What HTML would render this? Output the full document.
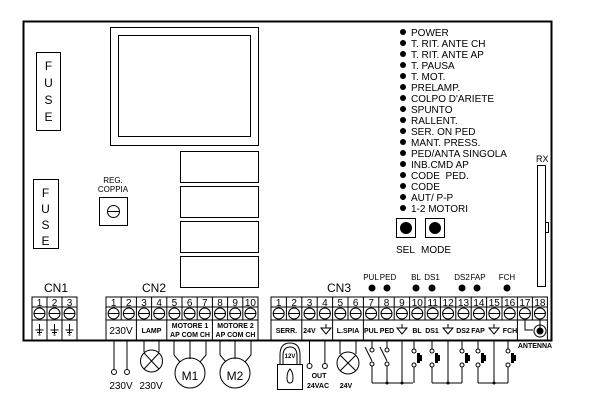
<!DOCTYPE html>
<html><head><style>
html,body{margin:0;padding:0;background:#fff;}
svg{display:block;font-family:"Liberation Sans",sans-serif;}
</style></head><body>
<svg width="600" height="415" viewBox="0 0 600 415" xmlns="http://www.w3.org/2000/svg">
<defs>
<g id="s" fill="none" stroke="#000" stroke-width="1"><circle cx="0" cy="0" r="5.5"/><path d="M-5.5 0H5.5"/></g>
<g id="gt" fill="none" stroke="#000" stroke-width="1"><path d="M-5 0H5L0 6Z M0 -4V0"/></g>
<g id="ge" fill="none" stroke="#000" stroke-width="1"><path d="M0 -6V4M-4 0H4M-2.5 2.5H2.5M-1 5H1"/></g>
</defs>
<rect x="0" y="0" width="600" height="415" fill="#fff"/>
<g fill="none" stroke="#000" stroke-width="1">
<path d="M23.5 21.5H551.5V340.5H23.5Z" stroke-width="2"/>
<rect x="110.5" y="27.5" width="148" height="118"/>
<rect x="118.5" y="35.5" width="132" height="101"/>
<rect x="180.5" y="151.5" width="78" height="31"/>
<rect x="180.5" y="186.5" width="78" height="31"/>
<rect x="180.5" y="221.5" width="78" height="31"/>
<rect x="180.5" y="256.5" width="78" height="31"/>
<rect x="36.5" y="52.5" width="24" height="78"/>
<rect x="33.5" y="179.5" width="25" height="69"/>
<rect x="99.5" y="197.5" width="28" height="28"/>
<circle cx="113.5" cy="211.5" r="6"/><path d="M107.5 211.5H119.5"/>
<rect x="396.5" y="218.5" width="19" height="19"/>
<rect x="425.5" y="218.5" width="19" height="19"/>
<rect x="537.5" y="165.5" width="8" height="121"/>
<rect x="545.5" y="222.5" width="3" height="10"/>
</g>
<circle cx="406" cy="228" r="6"/><circle cx="435" cy="228" r="6"/>
<g fill="#000">
<circle cx="403" cy="32" r="3"/><circle cx="403" cy="43" r="3"/><circle cx="403" cy="54" r="3"/><circle cx="403" cy="65" r="3"/><circle cx="403" cy="76" r="3"/><circle cx="403" cy="87" r="3"/><circle cx="403" cy="98" r="3"/><circle cx="403" cy="109" r="3"/><circle cx="403" cy="120" r="3"/><circle cx="403" cy="131" r="3"/><circle cx="403" cy="142" r="3"/><circle cx="403" cy="153" r="3"/><circle cx="403" cy="164" r="3"/><circle cx="403" cy="175" r="3"/><circle cx="403" cy="186" r="3"/><circle cx="403" cy="197" r="3"/><circle cx="403" cy="208" r="3"/>
</g>
<g font-size="10" fill="#000">
<text x="411" y="36">POWER</text>
<text x="411" y="47">T. RIT. ANTE CH</text>
<text x="411" y="58">T. RIT. ANTE AP</text>
<text x="411" y="69">T. PAUSA</text>
<text x="411" y="80">T. MOT.</text>
<text x="411" y="91">PRELAMP.</text>
<text x="411" y="102">COLPO D'ARIETE</text>
<text x="411" y="113">SPUNTO</text>
<text x="411" y="124">RALLENT.</text>
<text x="411" y="135">SER. ON PED</text>
<text x="411" y="146">MANT. PRESS.</text>
<text x="411" y="157">PED/ANTA SINGOLA</text>
<text x="411" y="168">INB.CMD AP</text>
<text x="411" y="179">CODE&#160; PED.</text>
<text x="411" y="190">CODE</text>
<text x="411" y="201">AUT/ P-P</text>
<text x="411" y="212">1-2 MOTORI</text>
<text x="396" y="253">SEL</text>
<text x="421" y="253">MODE</text>
<text x="536" y="162" font-size="9">RX</text>
</g>
<g font-size="12" fill="#000" text-anchor="middle">
<text x="48.5" y="70">F</text><text x="48.5" y="87">U</text><text x="48.5" y="104">S</text><text x="48.5" y="121">E</text>
<text x="45.5" y="197">F</text><text x="45.5" y="213">U</text><text x="45.5" y="229">S</text><text x="45.5" y="245">E</text>
</g>
<g font-size="8" text-anchor="middle" fill="#000">
<text x="113" y="183">REG.</text><text x="113" y="192">COPPIA</text>
</g>
<g font-size="12" fill="#000" text-anchor="middle">
<text x="56" y="292">CN1</text><text x="154" y="292">CN2</text><text x="339" y="292">CN3</text>
</g>
<g fill="#000"><circle cx="372" cy="288" r="3.5"/><circle cx="387" cy="288" r="3.5"/><circle cx="416" cy="288" r="3.5"/><circle cx="432" cy="288" r="3.5"/><circle cx="462" cy="288" r="3.5"/><circle cx="477" cy="288" r="3.5"/><circle cx="507" cy="288" r="3.5"/></g>
<g font-size="8" fill="#000" text-anchor="middle">
<text x="371" y="280">PUL</text><text x="388" y="280">PED</text><text x="416" y="280">BL</text><text x="432" y="280">DS1</text><text x="462" y="280">DS2</text><text x="478" y="280">FAP</text><text x="507" y="280">FCH</text>
</g>
<!-- terminal blocks -->
<g fill="none" stroke="#000" stroke-width="1">
<rect x="32" y="297" width="45" height="43"/>
<path d="M32 307H77M32 320H77M47 297V340M62 297V340"/>
<rect x="106" y="297" width="152" height="43"/>
<path d="M106 307H258M106 320H258M121.2 297V320M136.4 297V340M151.6 297V320M166.8 297V340M182 297V320M197.2 297V320M212.4 297V340M227.6 297V320M242.8 297V320"/>
<rect x="271" y="297" width="276.4" height="43"/>
<path d="M271 307H547.4M271 320H547.4M286.4 297V320M301.8 297V340M317.2 297V320M332.6 297V340M348 297V320M363.4 297V340M378.8 297V320M394.2 297V320M409.6 297V320M425 297V320M440.4 297V320M455.8 297V320M471.2 297V320M486.6 297V320M502 297V320M517.4 297V340M532.4 297V320"/>
</g>
<g>
<use href="#s" x="39.5" y="313.5"/><use href="#s" x="54.5" y="313.5"/><use href="#s" x="69.5" y="313.5"/>
<use href="#s" x="113.6" y="313.5"/><use href="#s" x="128.8" y="313.5"/><use href="#s" x="144" y="313.5"/><use href="#s" x="159.2" y="313.5"/><use href="#s" x="174.4" y="313.5"/><use href="#s" x="189.6" y="313.5"/><use href="#s" x="204.8" y="313.5"/><use href="#s" x="220" y="313.5"/><use href="#s" x="235.2" y="313.5"/><use href="#s" x="250.4" y="313.5"/>
<use href="#s" x="278.7" y="313.5"/><use href="#s" x="294.1" y="313.5"/><use href="#s" x="309.5" y="313.5"/><use href="#s" x="324.9" y="313.5"/><use href="#s" x="340.3" y="313.5"/><use href="#s" x="355.7" y="313.5"/><use href="#s" x="371.1" y="313.5"/><use href="#s" x="386.5" y="313.5"/><use href="#s" x="401.9" y="313.5"/><use href="#s" x="417.3" y="313.5"/><use href="#s" x="432.7" y="313.5"/><use href="#s" x="448.1" y="313.5"/><use href="#s" x="463.5" y="313.5"/><use href="#s" x="478.9" y="313.5"/><use href="#s" x="494.3" y="313.5"/><use href="#s" x="509.7" y="313.5"/><use href="#s" x="524.9" y="313.5"/><use href="#s" x="539.9" y="313.5"/>
<use href="#ge" x="39.5" y="330"/><use href="#ge" x="54.5" y="330"/><use href="#ge" x="69.5" y="330"/>
<use href="#gt" x="326" y="328"/><use href="#gt" x="402" y="328"/><use href="#gt" x="448" y="328"/><use href="#gt" x="494" y="328"/>
</g>
<g font-size="10" fill="#000" text-anchor="middle">
<text x="39.5" y="306">1</text><text x="54.5" y="306">2</text><text x="69.5" y="306">3</text>
<text x="113.6" y="306">1</text><text x="128.8" y="306">2</text><text x="144" y="306">3</text><text x="159.2" y="306">4</text><text x="174.4" y="306">5</text><text x="189.6" y="306">6</text><text x="204.8" y="306">7</text><text x="220" y="306">8</text><text x="235.2" y="306">9</text><text x="250.4" y="306">10</text>
<text x="278.7" y="306">1</text><text x="294.1" y="306">2</text><text x="309.5" y="306">3</text><text x="324.9" y="306">4</text><text x="340.3" y="306">5</text><text x="355.7" y="306">6</text><text x="371.1" y="306">7</text><text x="386.5" y="306">8</text><text x="401.9" y="306">9</text><text x="417.3" y="306">10</text><text x="432.7" y="306">11</text><text x="448.1" y="306">12</text><text x="463.5" y="306">13</text><text x="478.9" y="306">14</text><text x="494.3" y="306">15</text><text x="509.7" y="306">16</text><text x="524.9" y="306">17</text><text x="539.9" y="306">18</text>
</g>
<g font-size="10" fill="#000" text-anchor="middle">
<text x="121" y="334">230V</text>
</g>
<g font-size="7" fill="#000" text-anchor="middle" font-weight="bold">
<text x="151.5" y="333">LAMP</text>
<text x="190" y="328">MOTORE 1</text><text x="190" y="337">AP COM CH</text>
<text x="235.5" y="328">MOTORE 2</text><text x="235.5" y="337">AP COM CH</text>
<text x="286.4" y="333">SERR.</text>
<text x="309.5" y="333">24V</text>
<text x="348" y="333">L.SPIA</text>
<text x="371" y="333">PUL</text><text x="387" y="333">PED</text>
<text x="417" y="333">BL</text><text x="432" y="333">DS1</text><text x="463" y="333">DS2</text><text x="478" y="333">FAP</text><text x="510" y="333">FCH</text>
<text x="535" y="348">ANTENNA</text>
<text x="319" y="378">OUT</text><text x="318" y="388">24VAC</text>
<text x="346" y="388">24V</text>
<text x="290" y="358" font-size="6">12V</text>
</g>
<g font-size="10" fill="#000" text-anchor="middle">
<text x="121" y="389">230V</text><text x="151" y="389">230V</text>
<text x="190" y="380" font-size="12">M1</text><text x="235" y="380" font-size="12">M2</text>
</g>
<g fill="none" stroke="#000" stroke-width="1">
<path d="M114 340V369M127 340V369"/><circle cx="114" cy="372" r="2.5"/><circle cx="127" cy="372" r="2.5"/>
<path d="M144 340V352M159 340V352"/><circle cx="151.5" cy="361" r="11"/><path d="M144 353L159 369M159 353L144 369"/>
<path d="M174 340V355L180 362M190 340V359M206 340V355L200 362"/><circle cx="190" cy="373" r="15"/>
<path d="M220 340V355L226 362M235 340V359M251 340V355L245 362"/><circle cx="235" cy="373" r="15"/>
<path d="M280 364V355Q280 343 290 343Q300 343 300 355V364M283 364V356Q283 347 290 347Q297 347 297 356V364"/>
<rect x="277.5" y="364.5" width="25" height="25"/>
<path d="M290 369Q287 372 287 378Q287 383 290 383Q293 383 293 378Q293 372 290 369Z"/>
<path d="M309.5 340V363M324.9 340V363"/><circle cx="309.5" cy="366" r="2.5"/><circle cx="324.9" cy="366" r="2.5"/>
<path d="M340 340V354M356 340V354"/><circle cx="348" cy="363" r="11"/><path d="M340.5 355.5L355.5 370.5M355.5 355.5L340.5 370.5"/>
<path d="M372 340V348M387 340V348"/><circle cx="372" cy="350" r="2"/><circle cx="387" cy="350" r="2"/>
<path d="M365 347L372 361M380 347L387 361"/>
<circle cx="372" cy="364" r="2"/><circle cx="387" cy="364" r="2"/>
<path d="M372 366V383M387 366V383M402 340V383M372 383H413"/>
<path d="M414 340V349M414 367V383M432 340V349M432 367V383M462 340V349M462 367V383M478 340V349M478 367V383M508 340V349M508 367V383"/>
<circle cx="414" cy="351" r="2"/><circle cx="414" cy="365" r="2"/>
<circle cx="432" cy="351" r="2"/><circle cx="432" cy="365" r="2"/>
<circle cx="462" cy="351" r="2"/><circle cx="462" cy="365" r="2"/>
<circle cx="478" cy="351" r="2"/><circle cx="478" cy="365" r="2"/>
<circle cx="508" cy="351" r="2"/><circle cx="508" cy="365" r="2"/>
<path d="M448 340V383M432 383H462M494 340V383M478 383H508"/>
<path d="M525 320V330H533"/><circle cx="540" cy="331" r="6"/><path d="M540 320V329"/>
</g>
<g fill="#000">
<path d="M417 353H420V363H417Z M420 355H422V361H420Z"/>
<path d="M435 353H438V363H435Z M438 355H440V361H438Z"/>
<path d="M465 353H468V363H465Z M468 355H470V361H468Z"/>
<path d="M481 353H484V363H481Z M484 355H486V361H484Z"/>
<path d="M511 353H514V363H511Z M514 355H516V361H514Z"/>
<circle cx="540" cy="331" r="3.5"/>
<circle cx="387" cy="383" r="1.5"/><circle cx="402" cy="383" r="1.5"/><circle cx="448" cy="383" r="1.5"/><circle cx="494" cy="383" r="1.5"/>
</g>
</svg>
</body></html>
